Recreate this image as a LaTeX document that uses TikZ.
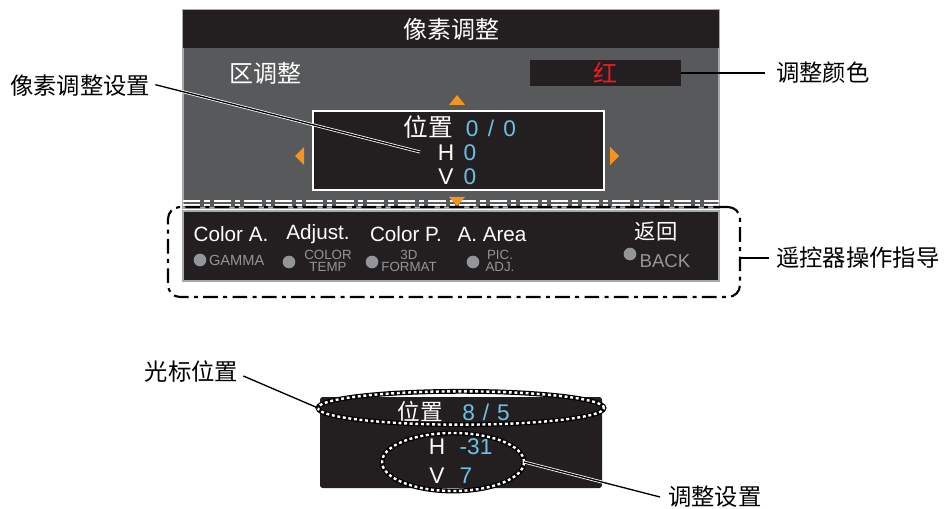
\documentclass[tikz,border=0pt]{standalone}
\usepackage{fontspec}
\setmainfont{Liberation Sans}
\newfontfamily\cjk{Noto Sans CJK SC}
\usetikzlibrary{positioning, shapes.geometric}

\definecolor{scrdark}{HTML}{231F20}
\definecolor{scrgray}{HTML}{58595B}
\definecolor{scredge}{HTML}{A7A9AC}
\definecolor{valblue}{HTML}{6DC0E8}
\definecolor{arrorange}{HTML}{F7941D}
\definecolor{selred}{HTML}{ED1C24}
\definecolor{btngray}{HTML}{939598}

\begin{document}
\begin{tikzpicture}[
    x=0.75pt, y=-0.75pt,
    every node/.style={inner sep=0pt, outer sep=0pt},
    cn/.style={font=\cjk\fontsize{17.5}{20}\selectfont},
    cnw/.style={text=white, font=\cjk\fontsize{18}{20}\selectfont},
    key/.style={text=white, font=\fontsize{15.5}{18}\selectfont},
    val/.style={text=valblue, font=\fontsize{17}{20}\selectfont},
    hint/.style={text=btngray, font=\fontsize{10}{9}\selectfont, align=center},
    btndot/.style={circle, fill=btngray, minimum size=9.5pt},
    callout/.style={draw=white, double=black, line width=0.6pt, double distance=1pt},
    tri/.style={fill=arrorange},
    cursor/.style={ellipse, draw=black, line width=3.6pt,
      postaction={draw=white, line width=1.8pt, dash pattern=on 2.2pt off 2pt}}
  ]
    \useasboundingbox (0,0) rectangle (944,509);

    % screen
    \fill[scrgray, draw=scredge, line width=1pt] (183,10) rectangle (719,208);
    \fill[scrdark] (183,10) rectangle (719,48);
    \draw[white, line width=1.2pt, dash pattern=on 13pt off 3pt on 4pt off 3pt] (183,201) -- (719,201);
    \draw[white, line width=1.2pt, dash pattern=on 13pt off 3pt on 4pt off 3pt] (183,205) -- (719,205);
    \fill[scrdark, draw=scredge, line width=1pt] (183,211) rectangle (719,281);

    \node[cnw] (title) at (451,29) {像素调整};
    \node[cnw] (zone) at (265,73) {区调整};
    \node[fill=scrdark, minimum width=113.25pt, minimum height=19.5pt] (colbox) at (605.5,73) {};
    \node[cnw, text=selred] (colval) at (605.5,73) {红};

    \node[fill=scrdark, draw=white, line width=0.8pt, minimum width=218.25pt, minimum height=59.25pt] (posbox) at (458.5,150.5) {};
    \node[cnw, font=\cjk\fontsize{18.5}{20}\selectfont] (poskey) at (428,127) {位置};
    \node[val] (posval) at (491,128) {0\hspace{7pt}/\hspace{7pt}0};
    \node[key, font=\fontsize{17}{20}\selectfont] (hkey) at (446,153) {H};
    \node[val] (hval) at (470,153) {0};
    \node[key, font=\fontsize{17}{20}\selectfont] (vkey) at (446,177) {V};
    \node[val] (vval) at (470,177) {0};

    \fill[tri] (449,105) -- (465,105) -- (457,95) -- cycle;
    \fill[tri] (304,147) -- (304,165) -- (295,156) -- cycle;
    \fill[tri] (610,147) -- (610,165) -- (619,156) -- cycle;
    \fill[tri] (449,197) -- (465,197) -- (457,206) -- cycle;

    % remote buttons
    \node[key] (btna) at (231,234) {Color A.};
    \node[key] (btnb) at (318,234) {Adjust.};
    \node[key] (btnc) at (406,234) {Color P.};
    \node[key] (btnd) at (492,234) {A. Area};
    \node[cnw, font=\cjk\fontsize{16}{18}\selectfont] (btnback) at (656,232) {返回};
    \node[btndot] (dota) at (200,260) {};
    \node[hint, font=\fontsize{11}{10}\selectfont, anchor=west] (hinta) at (209,260) {GAMMA};
    \node[btndot] (dotb) at (289,262) {};
    \node[hint] (hintb) at (328,261) {COLOR\\TEMP};
    \node[btndot] (dotc) at (372,262) {};
    \node[hint] (hintc) at (409,261) {3D\\FORMAT};
    \node[btndot] (dotd) at (473,262) {};
    \node[hint] (hintd) at (500,261) {PIC.\\ADJ.};
    \node[btndot] (dotback) at (630,254) {};
    \node[hint, font=\fontsize{14}{14}\selectfont] (hintback) at (665,261) {BACK};

    \node[draw=black, line width=1.6pt, rounded corners=9pt, dash pattern=on 11pt off 4pt on 3pt off 4pt,
      minimum width=429pt, minimum height=67.5pt] (remote) at (454,252) {};

    % labels
    \node[cn, anchor=east] (lblpix) at (150,86) {像素调整设置};
    \coordinate (pixend) at (420,152);
    \draw[callout] (lblpix.east) ++(4pt,1pt) -- (pixend);

    \node[cn, anchor=west] (lblcol) at (776,73) {调整颜色};
    \draw[callout] (colbox.east) -- ([xshift=-8pt]lblcol.west);

    \node[cn, anchor=west] (lblrem) at (776,258) {遥控器操作指导};
    \draw[black, line width=1pt] (remote.east |- lblrem) -- ([xshift=-5pt]lblrem.west);

    % cursor detail
    \fill[scrdark, rounded corners=2pt] (320,397) rectangle (602,488);
    \node[cnw, font=\cjk\fontsize{17}{20}\selectfont] (curkey) at (420,412) {位置};
    \node[val] (curval) at (486,412) {8\hspace{6pt}/\hspace{6pt}5};
    \node[key, font=\fontsize{17}{20}\selectfont] (curh) at (437,447) {H};
    \node[val] (curhval) at (476,447) {-31};
    \node[key, font=\fontsize{17}{20}\selectfont] (curv) at (437,476) {V};
    \node[val] (curvval) at (466,476) {7};

    \node[cursor, minimum width=214.5pt, minimum height=25pt] (curpos) at (461,408) {};
    \node[cursor, minimum width=106.5pt, minimum height=43.5pt] (curhv) at (453,462) {};

    \node[cn, anchor=east] (lblcur) at (238,372) {光标位置};
    \draw[black, line width=1pt] ([xshift=4pt,yshift=-3pt]lblcur.east) -- (curpos.west);

    \node[cn, anchor=west] (lbladj) at (668,497) {调整设置};
    \draw[callout] (curhv.east) -- ([xshift=-6pt]lbladj.west);
  \end{tikzpicture}
\end{document}
